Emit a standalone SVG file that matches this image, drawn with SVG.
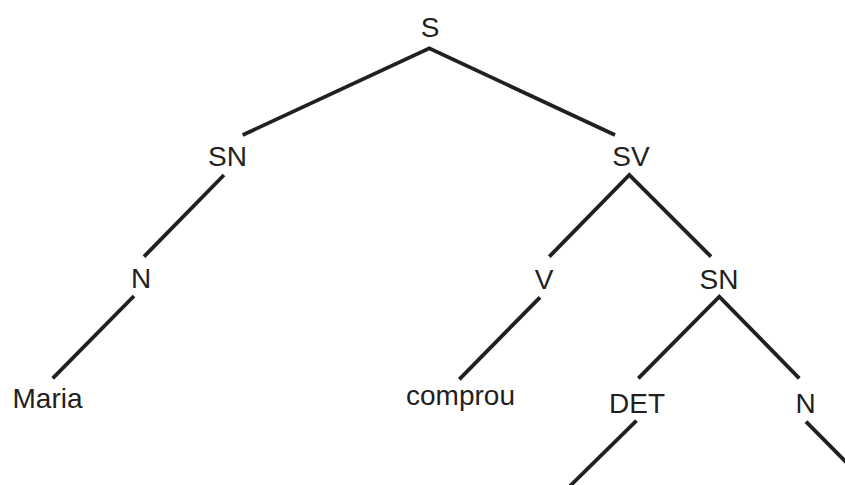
<svg xmlns="http://www.w3.org/2000/svg" width="845" height="485" viewBox="0 0 845 485">
  <style>
    .lbl { font-family: "Liberation Sans", Arial, Helvetica, sans-serif; font-size: 28px; fill: #231f20; text-anchor: middle; }
    .edge { stroke: #231f20; stroke-width: 3.8; fill: none; stroke-linecap: butt; stroke-linejoin: miter; }
  </style>
  <rect width="845" height="485" fill="#ffffff"/>

  <!-- branches of the syntax tree -->
  <g id="connectors">
    <polyline class="edge" points="242.7,135 429.3,48.3 615,135"/>
    <line class="edge" x1="224" y1="175" x2="144" y2="256.7"/>
    <line class="edge" x1="134" y1="296" x2="52.7" y2="378.3"/>
    <polyline class="edge" points="549.3,256.7 629.3,175 711,256.7"/>
    <line class="edge" x1="540" y1="297.3" x2="459.3" y2="379.3"/>
    <polyline class="edge" points="638.3,378.3 719.3,296.7 799.3,378.3"/>
    <line class="edge" x1="636.5" y1="420.7" x2="570" y2="486"/>
    <line class="edge" x1="806" y1="421.7" x2="847" y2="463"/>
  </g>

  <g id="node-S"><text class="lbl" x="430" y="36.5">S</text></g>
  <g id="node-SN1"><text class="lbl" x="227.5" y="166">SN</text></g>
  <g id="node-SV"><text class="lbl" x="631" y="166">SV</text></g>
  <g id="node-N1"><text class="lbl" x="141" y="288">N</text></g>
  <g id="node-V"><text class="lbl" x="544" y="289">V</text></g>
  <g id="node-SN2"><text class="lbl" x="719" y="289">SN</text></g>
  <g id="node-Maria"><text class="lbl" x="47.5" y="408">Maria</text></g>
  <g id="node-comprou"><text class="lbl" x="460.5" y="405">comprou</text></g>
  <g id="node-DET"><text class="lbl" x="637" y="413">DET</text></g>
  <g id="node-N2"><text class="lbl" x="805.5" y="413">N</text></g>
</svg>
